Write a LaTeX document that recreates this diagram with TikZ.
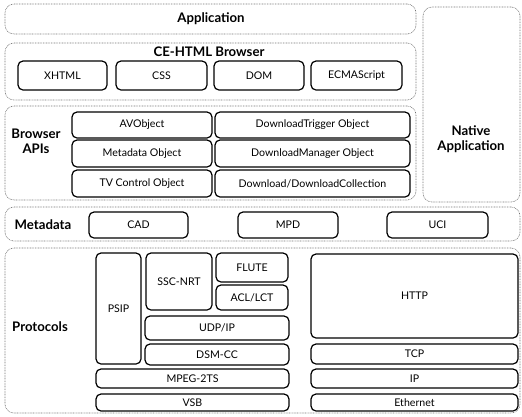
\documentclass[tikz,border=0pt]{standalone}
\usepackage{fontspec}
\setmainfont{Lato}
\begin{document}
\begin{tikzpicture}[x=1pt,y=-1pt,
  grp/.style={draw=black!55, line width=0.6pt, dash pattern=on 0.8pt off 0.8pt, rounded corners=9pt, inner sep=0pt},
  inbox/.style={draw=black, line width=1.2pt, rounded corners=5pt, inner sep=0pt, font=\fontsize{10.6}{12}\selectfont, align=center},
  ttl/.style={font=\fontsize{13.2}{15}\selectfont\bfseries, align=center, inner sep=0pt}]
\useasboundingbox (0,0) rectangle (522,416);
\newcommand\bxn[7][inbox]{\node[#1, minimum width={(#5-#3)*1pt}, minimum height={(#6-#4)*1pt}] (#2) at ({(#3+#5)/2},{(#4+#6)/2}) {#7};}
% groups
\bxn[grp]{gapp}{5}{4}{416}{34}{}
\bxn[grp]{gce}{5}{43}{416}{100}{}
\bxn[grp]{gnat}{423}{7}{520}{202}{}
\bxn[grp]{gapi}{5}{106}{416}{200}{}
\bxn[grp]{gmeta}{5}{207}{520}{241}{}
\bxn[grp]{gproto}{5}{248}{520}{413}{}
% titles
\node[ttl] (tapp) at (211,19) {Application};
\node[ttl] (tce) at (209,52) {CE-HTML Browser};
\node[ttl] (tnat) at (471,139) {Native\\Application};
\node[ttl] (tapi) at (36,141) {Browser\\APIs};
\node[ttl] (tmeta) at (43,225) {Metadata};
\node[ttl] (tproto) at (40,327) {Protocols};
% CE-HTML
\bxn{xhtml}{18}{61}{107}{90}{XHTML}
\bxn{css}{116}{61}{207}{90}{CSS}
\bxn{dom}{214}{61}{304}{90}{DOM}
\bxn{ecma}{311}{61}{402}{90}{ECMAScript}
% APIs
\bxn{avo}{72}{112}{212}{138}{AVObject}
\bxn{mdo}{72}{140}{212}{167}{Metadata Object}
\bxn{tvc}{72}{170}{212}{197}{TV Control Object}
\bxn{dlt}{215}{112}{410}{138}{DownloadTrigger Object}
\bxn{dlm}{215}{140}{410}{167}{DownloadManager Object}
\bxn{dlc}{215}{170}{410}{197}{Download/DownloadCollection}
% Metadata
\bxn{cad}{89}{212}{188}{238}{CAD}
\bxn{mpd}{238}{212}{338}{238}{MPD}
\bxn{uci}{387}{212}{488}{238}{UCI}
% Protocols
\bxn{psip}{96}{253}{141}{364}{PSIP}
\bxn{ssc}{146}{253}{212}{310}{SSC-NRT}
\bxn{flute}{216}{253}{288}{282}{FLUTE}
\bxn{acl}{216}{285}{288}{310}{ACL/LCT}
\bxn{udp}{145}{316}{289}{340}{UDP/IP}
\bxn{dsm}{145}{344}{289}{365}{DSM-CC}
\bxn{mpeg}{96}{369}{289}{388}{MPEG-2TS}
\bxn{vsb}{96}{394}{289}{411}{VSB}
\bxn{http}{311}{254}{518}{338}{HTTP}
\bxn{tcp}{311}{344}{518}{364}{TCP}
\bxn{ip}{311}{369}{518}{388}{IP}
\bxn{eth}{311}{394}{518}{411}{Ethernet}
\end{tikzpicture}
\end{document}
